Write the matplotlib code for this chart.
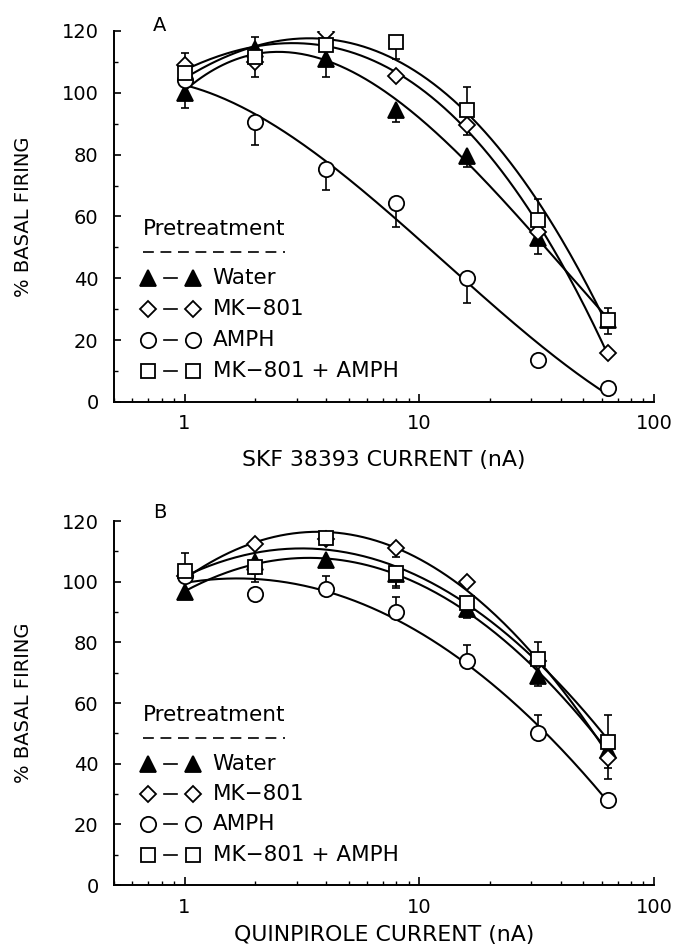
#!/usr/bin/env python3
import numpy as np
import matplotlib
matplotlib.use("Agg")
import matplotlib.pyplot as plt
from matplotlib.ticker import FixedLocator, NullFormatter, LogLocator

plt.rcParams['font.family'] = ['DejaVu Sans']

dose = [1, 2, 4, 8, 16, 32, 64]
groups = ["Water", "MK\u2212801", "AMPH", "MK\u2212801 + AMPH"]

# panel A: SKF 38393
water_a = [100, 114, 111, 94.5, 79.5, 53, 26.5]
mk_a = [109, 110, 119.5, 105.5, 89.5, 55, 16]
amph_a = [104, 90.5, 75.5, 64.5, 40, 13.5, 4.5]
mkamph_a = [106.5, 111.5, 115.5, 116.5, 94.5, 59, 26.5]
# one sided SEM (+ up, - down)
water_a_err = [-5, 4, -6, -4, -3.5, -5, -4.5]
mk_a_err = [4, -5, 1.5, 0, -3, 0, 0]
amph_a_err = [0, -7.5, -7, -8, -8, 0, 0]
mkamph_a_err = [2, 0, 0, -5.5, 7.5, 6.5, 4]

# panel B: quinpirole
water_b = [96.5, 106.5, 107, 102.5, 91, 69, 44.5]
mk_b = [102, 112.5, 114, 111, 100, 74, 42]
amph_b = [102, 96, 97.5, 90, 74, 50, 28]
mkamph_b = [103.5, 105, 114.5, 103, 93, 74.5, 47]
water_b_err = [0, -4, 0, -4, -3, -3.5, -6]
mk_b_err = [0, 0, 0, -3, 0, 0, -7]
amph_b_err = [0, 0, 4.5, 5, 5, 6, 0]
mkamph_b_err = [6, -5, 0, -5, 0, 5.5, 9]

styles = [dict(marker="^", mfc="black", ms=11),
          dict(marker="D", mfc="white", ms=8),
          dict(marker="o", mfc="white", ms=11),
          dict(marker="s", mfc="white", ms=10.5)]


def draw_panel(ax, series, errs, deg, letter, letter_y, xlabel, xlab_y):
    x = np.array(dose, dtype=float)
    lx = np.log10(x)
    xs = np.logspace(0, np.log10(64), 200)
    for y in series:
        c = np.polyfit(lx, y, deg)
        ax.plot(xs, np.polyval(c, np.log10(xs)), color="black", lw=1.5, zorder=2)
    for y, e, st in zip(series, errs, styles):
        y = np.array(y, dtype=float)
        e = np.array(e, dtype=float)
        lo = np.where(e < 0, -e, 0)
        hi = np.where(e > 0, e, 0)
        ax.errorbar(x, y, yerr=[lo, hi], fmt="none", ecolor="black",
                    elinewidth=1.2, capsize=3, capthick=1.2, zorder=3)
        ax.plot(x, y, linestyle="none", mec="black", mew=1.3, zorder=4, **st)

    ax.set_xscale("log")
    ax.set_xlim(0.5, 100)
    ax.set_ylim(0, 120)
    ax.set_yticks(range(0, 121, 20))
    ax.yaxis.set_minor_locator(FixedLocator(range(10, 120, 20)))
    ax.xaxis.set_major_locator(FixedLocator([1, 10, 100]))
    ax.set_xticklabels(["1", "10", "100"])
    ax.xaxis.set_minor_locator(LogLocator(base=10, subs=np.arange(2, 10)))
    ax.xaxis.set_minor_formatter(NullFormatter())
    for s in ["top", "right"]:
        ax.spines[s].set_visible(False)
    for s in ["left", "bottom"]:
        ax.spines[s].set_linewidth(1.4)
    ax.tick_params(axis="y", which="major", direction="in", length=5, width=1.2,
                   labelsize=14, pad=11)
    ax.tick_params(axis="y", which="minor", direction="in", length=3, width=1.0)
    ax.tick_params(axis="x", which="major", direction="in", length=6, width=1.2,
                   labelsize=14, pad=9)
    ax.tick_params(axis="x", which="minor", direction="in", length=3, width=1.0)
    ax.set_ylabel("% BASAL FIRING", fontsize=14, va="center")
    ax.yaxis.set_label_coords(-0.167, 0.5)
    ax.set_xlabel(xlabel, fontsize=15.8, va="center")
    ax.xaxis.set_label_coords(0.5, xlab_y)
    ax.text(0.072, letter_y, letter, transform=ax.transAxes, fontsize=14, va="center")

    # hand drawn legend, x in axes fraction, y in data units
    tr = ax.get_yaxis_transform()
    ax.text(0.054, 56, "Pretreatment", transform=tr, fontsize=15.5, va="center")
    ax.plot([0.054, 0.317], [48.5, 48.5], transform=tr, color="black", lw=1.2,
            dashes=(6.5, 4))
    rows = [40, 30, 20, 10]
    for name, st, ry in zip(groups, styles, rows):
        ax.plot([0.063, 0.146], [ry, ry], transform=tr, linestyle="none",
                mec="black", mew=1.3, clip_on=False, **st)
        ax.plot([0.092, 0.116], [ry, ry], transform=tr, color="black", lw=1.2)
        ax.text(0.183, ry, name, transform=tr, fontsize=15.5, va="center")


def main():
    fig = plt.figure(figsize=(6.78, 9.49), dpi=100)
    ax_a = fig.add_axes([0.168, 0.5764, 0.7965, 0.391])
    ax_b = fig.add_axes([0.168, 0.0674, 0.7965, 0.3836])
    draw_panel(ax_a, [water_a, mk_a, amph_a, mkamph_a],
               [water_a_err, mk_a_err, amph_a_err, mkamph_a_err], 3,
               "A", 1.016, "SKF 38393 CURRENT (nA)", -0.156)
    draw_panel(ax_b, [water_b, mk_b, amph_b, mkamph_b],
               [water_b_err, mk_b_err, amph_b_err, mkamph_b_err], 2,
               "B", 1.022, "QUINPIROLE CURRENT (nA)", -0.137)
    fig.savefig("out.png", dpi=100)


if __name__ == "__main__":
    main()
